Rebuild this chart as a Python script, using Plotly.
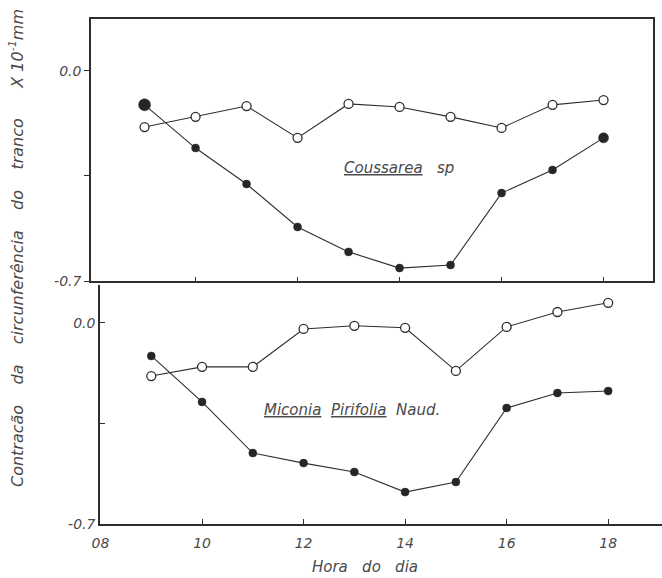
import plotly.graph_objects as go

W, H = 662, 578

hours = [9, 10, 11, 12, 13, 14, 15, 16, 17, 18]

# Coussarea sp (top panel)
cous_open = [-0.187, -0.153, -0.117, -0.223, -0.110, -0.120, -0.153, -0.190, -0.113, -0.097]
cous_fill = [-0.113, -0.257, -0.377, -0.520, -0.603, -0.657, -0.647, -0.407, -0.330, -0.223]

# Miconia pirifolia Naud. (bottom panel)
mic_open = [-0.185, -0.153, -0.153, -0.021, -0.010, -0.017, -0.167, -0.014, 0.038, 0.070]
mic_fill = [-0.115, -0.275, -0.453, -0.488, -0.519, -0.589, -0.554, -0.296, -0.244, -0.237]

xtick_vals = [8, 10, 12, 14, 16, 18]
xtick_text = ["08", "10", "12", "14", "16", "18"]
ytick_vals = [0.0, -0.7]
ytick_text = ["0.0", "-0.7"]
ytick_minor = [-0.35]

INK = "#2e2e2e"
TXT = "#4a4a4a"
FONT = "DejaVu Sans"

def px_x(p):
    return p / W

def px_y(p):
    return (H - p) / H

fig = go.Figure()

line_style = dict(color=INK, width=1.1)
open_marker = dict(symbol="circle", size=9, color="white", opacity=1,
                   line=dict(color=INK, width=1.3))
fill_marker = dict(symbol="circle", size=[12, 8, 8, 8, 8, 8, 8, 8, 8, 10], color="#262626",
                   opacity=1, line=dict(color="#262626", width=0.5))
fill_marker2 = dict(symbol="circle", size=8, color="#262626", opacity=1,
                    line=dict(color="#262626", width=0.5))

fig.add_trace(go.Scatter(x=hours, y=cous_open, mode="lines+markers", line=line_style,
                         marker=open_marker, xaxis="x", yaxis="y", showlegend=False))
fig.add_trace(go.Scatter(x=hours, y=cous_fill, mode="lines+markers", line=line_style,
                         marker=fill_marker, xaxis="x", yaxis="y", showlegend=False))
fig.add_trace(go.Scatter(x=hours, y=mic_open, mode="lines+markers", line=line_style,
                         marker=open_marker, xaxis="x2", yaxis="y2", showlegend=False))
fig.add_trace(go.Scatter(x=hours, y=mic_fill, mode="lines+markers", line=line_style,
                         marker=fill_marker2, xaxis="x2", yaxis="y2", showlegend=False))

tickfont = dict(family=FONT, size=14, color=TXT, style="italic")

fig.update_layout(
    width=W, height=H,
    margin=dict(l=0, r=0, t=0, b=0, pad=0),
    paper_bgcolor="white", plot_bgcolor="white",
    xaxis=dict(domain=[px_x(91), px_x(653)], range=[7.95, 18.97], anchor="y", automargin=False,
               showgrid=False, zeroline=False, showline=True, linecolor=INK, linewidth=1.5,
               mirror=True, tickvals=xtick_vals[1:], showticklabels=False,
               ticks="inside", ticklen=4, tickcolor=INK),
    yaxis=dict(domain=[px_y(281), px_y(19)], range=[-0.7, 0.173], anchor="x", automargin=False,
               showgrid=False, zeroline=False, showline=True, linecolor=INK, linewidth=1.5,
               mirror=True, tickvals=ytick_vals, ticktext=ytick_text,
               ticks="outside", ticklen=5, tickcolor=INK, tickfont=tickfont,
               minor=dict(tickvals=ytick_minor, ticks="outside", ticklen=5, tickcolor=INK,
                          showgrid=False)),
    xaxis2=dict(domain=[px_x(100), 1.0], range=[7.99, 19.06], anchor="y2", automargin=False,
                showgrid=False, zeroline=False, showline=True, linecolor=INK, linewidth=1.5,
                tickvals=xtick_vals, ticktext=xtick_text, ticks="inside", ticklen=5,
                tickcolor=INK, tickfont=tickfont, ticklabelstandoff=5),
    yaxis2=dict(domain=[px_y(524), px_y(285)], range=[-0.7, 0.132], anchor="x2", automargin=False,
                showgrid=False, zeroline=False, showline=True, linecolor=INK, linewidth=1.5,
                tickvals=ytick_vals, ticktext=ytick_text, ticks="inside", ticklen=5,
                tickcolor=INK, tickfont=tickfont,
                minor=dict(tickvals=ytick_minor, ticks="inside", ticklen=5, tickcolor=INK,
                           showgrid=False)),
)

ann_font = dict(family=FONT, size=15, color=TXT, style="italic")
fig.add_annotation(text="<u>Coussarea</u>   sp", x=px_x(342), y=px_y(168), xref="paper", yref="paper",
                   xanchor="left", yanchor="middle", showarrow=False, font=ann_font)
fig.add_annotation(text="<u>Miconia</u>  <u>Pirifolia</u>  Naud.", x=px_x(262), y=px_y(410),
                   xref="paper", yref="paper", xanchor="left", yanchor="middle",
                   showarrow=False, font=ann_font)
fig.add_annotation(text="Hora   do   dia", x=px_x(365), y=px_y(567), xref="paper", yref="paper",
                   xanchor="center", yanchor="middle", showarrow=False, font=ann_font)
fig.add_annotation(text="Contracão    da    circunferência    do    tranco      X 10<sup>-1</sup>mm",
                   x=px_x(16), y=px_y(248), xref="paper", yref="paper", textangle=-90,
                   xanchor="center", yanchor="middle", showarrow=False,
                   font=dict(family=FONT, size=16, color=TXT, style="italic"))

fig.write_html("out.html")
